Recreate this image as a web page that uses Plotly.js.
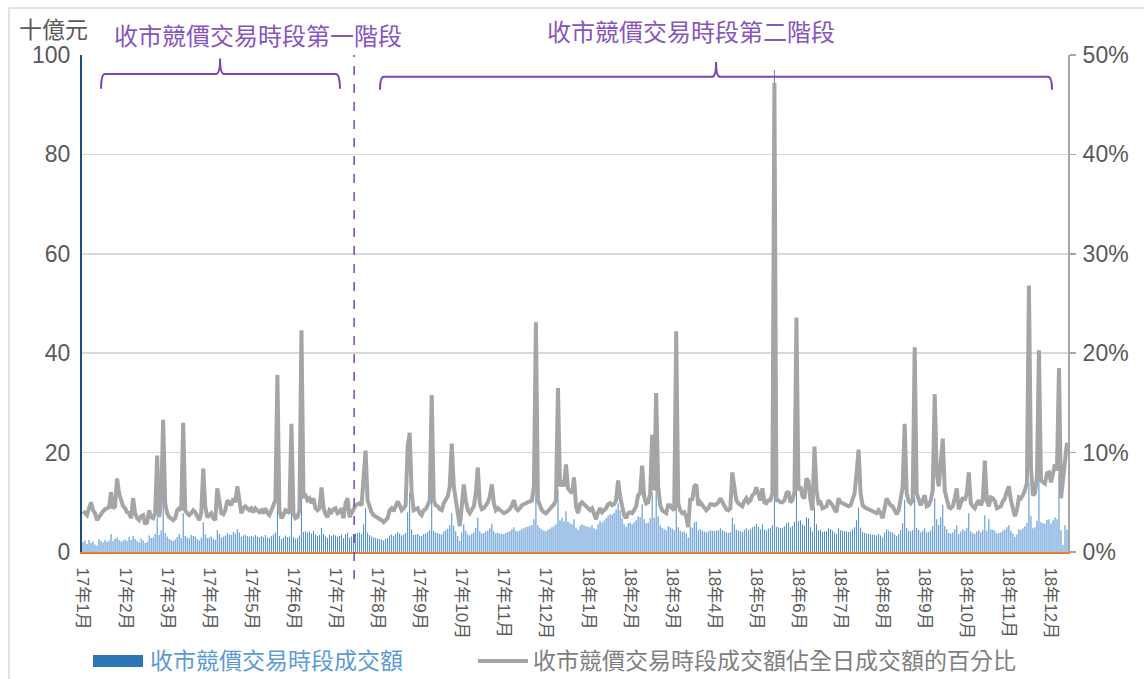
<!DOCTYPE html>
<html>
<head>
<meta charset="utf-8">
<script src="https://cdn.plot.ly/plotly-3.0.1.min.js"></script>
<style>html,body{margin:0;padding:0;background:#fff;}#chart{width:1144px;height:679px;}</style>
</head>
<body>
<div id="chart"></div>
<script>
// ---- data (trading days, Jan 2017 – Dec 2018) ----
const monthLabels = ['17年1月','17年2月','17年3月','17年4月','17年5月','17年6月','17年7月','17年8月','17年9月','17年10月','17年11月','17年12月',
  '18年1月','18年2月','18年3月','18年4月','18年5月','18年6月','18年7月','18年8月','18年9月','18年10月','18年11月','18年12月'];
const daysPerLabel = 21;

// 收市競價交易時段成交額 (十億元)
const cas2017a = [2.0,2.3,1.6,2.4,1.8,2.1,1.5,1.3,2.6,2.2,1.9,2.4,2.0,2.3,3.6,2.2,2.6,2.9,2.4,2.1,2.3,
  2.5,2.2,3.0,2.4,3.2,2.6,2.2,1.9,2.7,2.3,1.8,2.0,3.3,2.8,2.9,3.6,7.0,3.4,4.4,10.0,3.8,
  3.1,2.6,2.4,2.2,2.5,3.0,3.6,2.8,7.8,3.2,2.9,2.7,3.4,3.2,3.1,2.6,2.3,2.9,6.0,3.5,2.8,
  2.9,3.1,2.6,2.4,4.4,3.6,2.8,3.0,3.3,3.8,3.5,3.4,4.0,3.7,4.6,3.9,3.0,3.3,3.5,3.2,3.1,
  3.2,3.0,3.4,3.1,2.9,3.2,3.0,3.4,2.9,2.8,3.2,3.5,3.9,10.5,3.2,2.6,2.9,3.3,3.0,3.1,7.8,
  3.0,2.7,2.8,3.3,11.0,4.0,4.2,3.9,4.1,3.7,4.3,3.5,3.2,3.4,4.9,3.6,3.1,2.8,3.4,3.2,3.5];
const cas2017b = [3.3,3.0,3.2,3.5,2.8,3.6,3.9,2.9,3.1,3.5,3.7,3.8,3.9,3.6,5.6,8.8,3.9,3.4,3.1,2.9,2.8,
  2.7,2.6,2.5,2.3,2.6,2.8,3.3,3.5,3.2,3.6,4.0,3.7,3.3,3.5,3.8,8.0,11.9,4.6,3.4,3.5,3.6,
  3.3,3.2,3.6,3.7,4.0,4.4,11.0,4.3,3.9,3.8,3.6,3.5,4.1,4.4,4.7,5.4,7.8,5.3,4.2,3.2,2.2,
  3.9,5.6,4.3,3.5,3.3,3.6,3.9,4.9,6.9,4.2,3.7,3.8,4.1,4.3,4.8,5.7,4.2,3.7,3.9,3.7,3.6,
  3.6,3.8,4.0,4.2,4.6,5.0,4.3,4.1,4.4,4.7,4.8,5.0,5.1,5.3,5.4,6.6,25.0,5.4,4.9,4.5,4.3,
  4.2,4.5,4.7,5.0,5.2,5.6,12.5,6.4,6.9,6.2,8.2,6.1,5.8,5.6,6.6,4.9,4.5,5.3,5.6,5.4,5.2];
const cas2018a = [5.1,5.0,5.4,4.8,4.6,5.6,6.2,5.9,6.3,6.8,7.3,7.6,7.5,7.9,8.6,9.8,8.4,6.8,5.6,5.1,5.8,
  5.9,5.6,6.0,6.4,7.2,7.0,9.6,6.6,5.8,5.9,6.8,12.0,6.9,14.0,7.2,5.4,4.9,4.6,4.4,5.2,5.0,
  4.7,4.4,16.0,5.0,4.3,4.0,4.1,3.7,2.9,5.1,4.9,6.0,6.1,4.4,4.6,4.3,4.1,3.9,4.1,4.4,4.3,
  4.2,4.3,4.4,4.8,4.4,4.2,3.9,3.8,4.0,6.9,5.6,4.5,4.3,4.2,4.0,4.5,4.8,4.4,4.6,5.0,5.2,
  5.7,5.1,4.6,5.6,4.5,4.4,4.7,4.8,5.4,97.0,5.1,5.0,4.8,4.9,5.2,5.8,6.0,5.0,5.3,6.1,18.0,
  6.2,6.4,5.6,5.3,7.0,6.8,5.0,4.1,9.0,5.6,4.4,4.5,4.0,4.1,4.2,4.8,4.6,4.3,3.9,3.6,4.8];
const cas2018b = [4.4,4.3,4.2,4.1,4.0,4.1,4.6,5.0,6.4,8.9,4.9,4.0,3.8,3.7,3.6,3.5,3.5,3.4,3.3,3.6,3.3,
  2.9,3.9,4.6,4.3,4.0,3.9,3.5,3.2,3.6,4.4,5.8,10.5,4.9,4.3,4.1,4.4,11.0,4.9,4.5,3.9,4.3,
  4.8,3.9,4.0,4.4,5.2,10.8,6.6,5.5,7.0,9.5,5.2,4.6,3.8,3.7,3.9,4.6,5.4,3.6,4.1,4.6,4.3,
  4.9,7.8,4.1,3.8,3.6,4.1,4.4,3.9,4.4,7.4,4.3,6.7,4.6,4.5,4.3,3.7,3.8,3.9,4.3,4.5,5.0,
  5.4,4.3,3.7,3.0,3.5,4.6,4.5,4.8,5.2,5.9,14.0,7.2,4.8,5.0,6.3,15.8,6.0,5.8,5.7,6.5,6.6,
  5.8,6.4,7.0,6.6,15.8,4.4,1.4,5.4,4.5];

// 收市競價交易時段成交額佔全日成交額的百分比 (%)
const pct2017a = [4.1,3.9,3.7,4.4,5.0,4.2,3.9,3.2,3.5,3.9,4.1,4.3,4.4,4.5,6.0,4.4,4.6,7.4,5.9,5.2,4.6,
  4.4,4.0,3.9,3.4,5.4,3.9,3.4,3.2,3.6,3.7,2.8,3.0,4.2,3.5,3.4,3.9,9.7,3.5,5.2,13.3,4.9,
  3.9,3.5,3.4,3.2,3.4,4.2,4.4,4.2,13.0,4.2,3.9,3.7,3.9,4.2,4.0,3.5,3.2,3.9,8.4,4.6,3.5,
  3.7,3.9,3.4,3.2,6.4,4.9,3.9,3.8,4.2,5.2,4.9,4.7,5.4,5.0,6.6,5.2,3.9,4.4,4.6,4.4,4.2,
  4.4,4.0,4.4,4.2,4.0,4.2,3.9,4.4,3.9,3.7,4.2,4.7,5.2,17.8,4.2,3.4,3.7,4.2,4.0,3.9,12.9,
  3.9,3.4,3.5,4.2,22.3,5.6,5.7,5.2,5.4,4.9,5.4,4.4,4.2,4.4,6.5,4.5,3.8,3.5,4.2,4.0,4.3];
const pct2017b = [4.4,3.9,4.0,4.4,3.4,4.9,5.4,3.5,3.9,4.4,4.7,4.8,4.9,4.7,7.9,10.2,5.2,4.4,4.0,3.7,3.6,
  3.5,3.4,3.2,3.0,3.2,3.4,4.2,4.4,4.1,4.6,5.1,4.7,4.2,4.4,4.7,10.6,12.0,5.9,4.2,4.3,4.4,
  3.9,3.7,4.2,4.3,4.7,5.2,15.8,5.2,4.7,4.6,4.3,4.2,4.9,5.2,5.6,6.6,10.9,6.6,5.2,3.9,2.6,
  4.6,6.8,5.2,4.2,3.9,4.2,4.6,5.9,8.5,4.9,4.3,4.4,4.7,5.0,5.6,6.8,4.9,4.2,4.4,4.2,4.1,
  3.9,4.0,4.1,4.3,4.7,5.2,4.4,4.2,4.4,4.7,4.8,4.9,4.9,5.1,5.2,6.6,23.1,5.2,4.7,4.2,4.0,
  3.9,4.1,4.3,4.6,4.8,5.2,16.5,6.6,7.2,6.6,8.8,6.4,6.1,5.9,7.5,4.6,3.9,4.8,5.0,4.8,4.6];
const pct2018a = [4.3,4.2,4.4,3.7,3.3,4.0,4.4,4.0,4.2,4.4,4.8,4.9,4.7,4.8,5.2,7.2,5.6,4.4,3.7,3.4,3.9,
  4.0,3.9,4.2,4.6,5.7,5.9,8.7,5.6,4.9,5.0,5.9,11.8,6.2,16.0,6.6,4.7,4.2,4.0,3.9,4.7,4.7,
  4.4,4.2,22.2,4.9,4.2,3.9,4.0,3.5,2.5,5.4,5.2,6.6,6.8,4.7,5.0,4.7,4.4,4.2,4.4,4.8,4.8,
  4.7,4.8,5.0,5.4,5.0,4.7,4.3,4.2,4.4,8.0,6.6,5.2,4.9,4.8,4.6,5.1,5.4,5.0,5.2,5.7,5.9,
  6.5,5.9,5.2,6.4,5.0,4.9,5.2,5.2,5.9,47.2,5.2,5.2,5.0,5.0,5.2,5.9,6.1,5.0,5.2,6.0,23.6,
  6.2,6.6,5.6,5.4,7.4,7.1,5.2,4.2,10.6,6.2,4.9,5.0,4.4,4.5,4.6,5.2,5.0,4.7,4.3,4.0,5.4];
const pct2018b = [5.0,4.9,4.8,4.7,4.6,4.7,5.4,5.9,7.9,10.3,5.9,4.7,4.5,4.4,4.3,4.2,4.1,4.0,3.9,4.2,3.9,
  3.4,4.6,5.4,5.0,4.7,4.6,4.1,3.8,4.2,5.2,6.5,12.9,5.9,5.1,4.9,5.2,20.6,5.9,5.4,4.7,5.2,
  5.7,4.6,4.7,5.2,6.2,15.9,7.9,6.6,8.6,11.4,6.2,5.4,4.5,4.4,4.6,5.4,6.4,4.3,4.9,5.5,5.2,
  5.9,8.0,4.9,4.6,4.4,4.9,5.2,4.7,5.2,9.2,5.2,4.6,5.5,5.4,5.1,4.4,4.5,4.6,5.1,5.4,6.1,
  6.6,5.2,4.4,3.6,4.2,5.5,5.4,5.7,6.2,7.0,26.8,8.6,5.7,5.9,7.5,20.3,7.2,7.0,6.9,7.9,8.0,
  7.0,7.9,8.8,8.2,18.5,5.4,7.6,9.6,11.0];

const phase1Label = '收市競價交易時段第一階段';
const phase2Label = '收市競價交易時段第二階段';
const phaseSplitDay = 135.3;          // between trading-day categories
const phase1Span = [9, 128.2, 68.4];  // start, end, middle (category index)
const phase2Span = [148.2, 483.5, 315.9];
const barName = '收市競價交易時段成交額';
const lineName = '收市競價交易時段成交額佔全日成交額的百分比';

// ---- build ----
const cas = [].concat(cas2017a, cas2017b, cas2018a, cas2018b);
const pct = [].concat(pct2017a, pct2017b, pct2018a, pct2018b);
const n = Math.max(cas.length, pct.length);
const xs = cas.map((_, i) => i);
const tickvals = monthLabels.map((_, k) => k * daysPerLabel);

const FONT = 'Liberation Sans, Arial, "Noto Sans CJK TC", sans-serif';
const PURPLE = '#7d45b5';
const GREY_TXT = '#595959';

const traces = [
  {type:'bar', x: xs, y: cas, name: barName, marker:{color:'#4a8ccf', line:{width:0}}, yaxis:'y', hoverinfo:'skip'},
  {type:'scatter', mode:'lines', x: pct.map((_, i) => i), y: pct, name: lineName, yaxis:'y2',
   line:{color:'#a5a5a5', width:4}, hoverinfo:'skip'}
];

function px2paperX(p){ return (p - 82) / 986; }
function px2paperY(p){ return (552 - p) / 497; }

function bracket(span, yb, yh, yt){
  const [x0, x1, xm] = span, d = 2;
  return `M ${x0},${yb} Q ${x0},${yh} ${x0+d},${yh} L ${xm-d},${yh} Q ${xm},${yh} ${xm},${yt} ` +
         `Q ${xm},${yh} ${xm+d},${yh} L ${x1-d},${yh} Q ${x1},${yh} ${x1},${yb}`;
}

const xMin = -0.5, xMax = n - 0.5;
const splitPaper = (phaseSplitDay - xMin) / (xMax - xMin);

const shapes = [
  {type:'rect', xref:'paper', yref:'paper', x0:px2paperX(9), x1:px2paperX(1160), y0:px2paperY(700), y1:px2paperY(8),
   line:{color:'#d9d9d9', width:1.5}, fillcolor:'rgba(0,0,0,0)', layer:'below'},
  {type:'path', xref:'x', yref:'y', path: bracket(phase1Span, 93.2, 96.2, 99.3), line:{color:PURPLE, width:2}},
  {type:'path', xref:'x', yref:'y', path: bracket(phase2Span, 93.0, 95.6, 98.6), line:{color:PURPLE, width:2}},
  {type:'line', xref:'paper', yref:'paper', x0:splitPaper, x1:splitPaper, y0:px2paperY(579), y1:1,
   line:{color:PURPLE, width:1.5, dash:'dash'}},
  {type:'rect', xref:'paper', yref:'paper', x0:px2paperX(93), x1:px2paperX(143), y0:px2paperY(667), y1:px2paperY(655),
   fillcolor:'#2e75b6', line:{width:0}},
  {type:'line', xref:'paper', yref:'paper', x0:px2paperX(478), x1:px2paperX(528), y0:px2paperY(661), y1:px2paperY(661),
   line:{color:'#a5a5a5', width:4}}
];

const annotations = [
  {xref:'paper', yref:'paper', x:px2paperX(53), y:px2paperY(30), text:'十億元', showarrow:false,
   xanchor:'center', yanchor:'middle', font:{size:23, color:GREY_TXT, family:FONT}},
  {xref:'paper', yref:'paper', x:px2paperX(258), y:px2paperY(37), text:phase1Label, showarrow:false,
   xanchor:'center', yanchor:'middle', font:{size:24, color:'#8755bd', family:FONT}},
  {xref:'paper', yref:'paper', x:px2paperX(691), y:px2paperY(33), text:phase2Label, showarrow:false,
   xanchor:'center', yanchor:'middle', font:{size:24, color:'#8755bd', family:FONT}},
  {xref:'paper', yref:'paper', x:px2paperX(148), y:px2paperY(661), text:barName, showarrow:false,
   xanchor:'left', yanchor:'middle', font:{size:23, color:'#5b9bd5', family:FONT}},
  {xref:'paper', yref:'paper', x:px2paperX(531), y:px2paperY(661), text:lineName, showarrow:false,
   xanchor:'left', yanchor:'middle', font:{size:23, color:'#7f7f7f', family:FONT}}
];

const layout = {
  width:1144, height:679,
  margin:{l:82, r:76, t:55, b:127, pad:0},
  paper_bgcolor:'#ffffff', plot_bgcolor:'#ffffff',
  showlegend:false,
  bargap:0.5,
  font:{family:FONT, color:GREY_TXT},
  xaxis:{range:[xMin, xMax], tickmode:'array', tickvals:tickvals, ticktext:monthLabels, tickangle:90,
         tickfont:{size:17, color:GREY_TXT}, showgrid:false, zeroline:false, showline:true,
         linecolor:'#ed7d31', linewidth:2, ticks:'', ticklabelstandoff:10, fixedrange:true},
  yaxis:{range:[0,100], dtick:20, tick0:0, tickfont:{size:23, color:GREY_TXT}, showgrid:true, gridcolor:'#d9d9d9',
         gridwidth:1.5, zeroline:false, showline:true, linecolor:'#1f4e79', linewidth:2, ticks:'', ticklabelstandoff:5},
  yaxis2:{range:[0,50], dtick:10, tick0:0, ticksuffix:'%', overlaying:'y', side:'right', showgrid:false, zeroline:false,
          showline:true, linecolor:'#a6a6a6', linewidth:2, ticks:'outside', ticklen:6, tickcolor:'#a6a6a6', tickwidth:1.5,
          tickfont:{size:23, color:GREY_TXT}, ticklabelstandoff:2},
  shapes: shapes,
  annotations: annotations
};

Plotly.newPlot('chart', traces, layout, {displayModeBar:false, staticPlot:true});
</script>
</body>
</html>
